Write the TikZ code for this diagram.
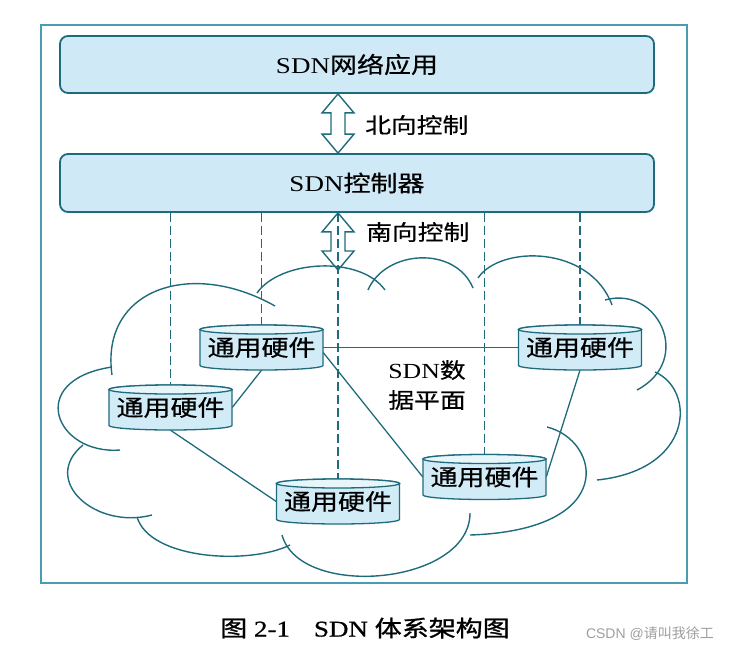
\documentclass[tikz,border=0pt]{standalone}
\usepackage{fontspec}
\setmainfont{Liberation Serif}[FakeStretch=1.2]
\newfontfamily\cjk{Noto Sans CJK SC}[FakeStretch=1.2,FakeBold=0.6]
\newfontfamily\capserif{Liberation Serif}[FakeStretch=1.2,FakeBold=0.8]
\newfontfamily\capcjk{Noto Sans CJK SC}[FakeStretch=1.2,FakeBold=1.2]
\newfontfamily\wmlat{Liberation Sans}
\newfontfamily\wmcjk{Noto Sans CJK SC}
\usetikzlibrary{calc}
\pgfdeclarelayer{back}
\pgfdeclarelayer{mid}
\pgfsetlayers{back,mid,main}
\definecolor{framec}{HTML}{4A9DB0}
\definecolor{linec}{HTML}{1E6B7C}
\definecolor{boxf}{HTML}{CFEAF6}
\definecolor{cylf}{HTML}{D2ECF7}
\definecolor{cyltopf}{HTML}{E8F6FB}
\newcommand\zh[1]{{\cjk #1}}
\newcommand\hollowarrow[2]{%
  \draw[harrow] let \p1=(#1), \p2=(#2) in
  (\x1,\y1) -- (\x1+16pt,\y1-19pt) -- (\x1+7pt,\y1-19pt) -- (\x1+7pt,\y2+19pt)
  -- (\x1+16pt,\y2+19pt) -- (\x1,\y2) -- (\x1-16pt,\y2+19pt) -- (\x1-7pt,\y2+19pt)
  -- (\x1-7pt,\y1-19pt) -- (\x1-16pt,\y1-19pt) -- cycle;}
\newcommand\cyl[1]{%
  \draw[cylbody] ([shift={(-61.5pt,18pt)}]#1.center) -- ([shift={(-61.5pt,-18pt)}]#1.center)
    arc[start angle=180,end angle=360,x radius=61.5pt,y radius=4.5pt]
    -- ([shift={(61.5pt,18pt)}]#1.center)
    arc[start angle=0,end angle=180,x radius=61.5pt,y radius=4.5pt] -- cycle;
  \draw[cyltop] ([shift={(0pt,18pt)}]#1.center) ellipse[x radius=61.5pt,y radius=4.5pt];}
\tikzset{
  frame/.style={draw=framec, line width=1.5pt},
  layerbox/.style={draw=linec, fill=boxf, line width=1.8pt, rounded corners=8pt,
    minimum width=594pt, inner sep=0pt, font=\fontsize{22.5}{26}\selectfont},
  harrow/.style={draw=linec, line width=1.4pt, line join=miter},
  lbl/.style={inner sep=0pt, font=\fontsize{21.5}{30}\selectfont},
  dev/.style={minimum width=123pt, minimum height=45pt, inner sep=0pt,
    font=\fontsize{22.5}{26}\selectfont},
  cylbody/.style={draw=linec, fill=cylf, line width=1.3pt},
  cyltop/.style={draw=linec, fill=cyltopf, line width=1.3pt},
  cloud/.style={draw=linec, line width=1.4pt},
  link/.style={draw=linec, line width=1.3pt},
  dashline/.style={draw=linec, line width=1.2pt, dash pattern=on 9pt off 4pt},
}
\begin{document}
\begin{tikzpicture}[x=1pt,y=-1pt]
\useasboundingbox (0,0) rectangle (730,656);
% outer frame
\draw[frame] (41,25) rectangle (687,583);
% layer boxes
\node[layerbox, minimum height=57pt] (app) at (357,64.5) {SDN\zh{网络应用}};
\node[layerbox, minimum height=58pt] (ctl) at (357,183) {SDN\zh{控制器}};
% arrows
\coordinate (ax) at (338,0);
\hollowarrow{app.south -| ax}{ctl.north -| ax}
\node[lbl, anchor=west] (nlbl) at (365,125) {\zh{北向控制}};
\coordinate (cloudtop) at (338,270);
\hollowarrow{ctl.south -| ax}{cloudtop}
\node[lbl, anchor=west] (slbl) at (366,232) {\zh{南向控制}};
% devices
\node[dev] (d1) at (261.5,347.5) {\zh{通用硬件}};
\node[dev] (d2) at (170.5,407.5) {\zh{通用硬件}};
\node[dev] (d3) at (580,347.5) {\zh{通用硬件}};
\node[dev] (d4) at (484.5,477) {\zh{通用硬件}};
\node[dev] (d5) at (338,501.5) {\zh{通用硬件}};
\begin{pgfonlayer}{mid}
  \cyl{d1}\cyl{d2}\cyl{d3}\cyl{d4}\cyl{d5}
\end{pgfonlayer}
\node[lbl, align=center] (dplane) at (427,385) {SDN\zh{数}\\\zh{据平面}};
\begin{pgfonlayer}{back}
  % cloud
  \draw[cloud] (112,375) .. controls (100,290) and (190,258) .. (275,306);
  \draw[cloud] (257,293) .. controls (280,260) and (360,255) .. (385,290);
  \draw[cloud] (368,290) .. controls (385,250) and (455,245) .. (473,288);
  \draw[cloud] (478,278) .. controls (500,245) and (590,245) .. (612,305);
  \draw[cloud] (605,300) .. controls (658,285) and (694,360) .. (637,390);
  \draw[cloud] (655,372) .. controls (696,390) and (694,470) .. (597,480);
  \draw[cloud] (547,427) .. controls (600,440) and (620,530) .. (470,535);
  \draw[cloud] (470,513) .. controls (470,585) and (300,600) .. (282,535);
  \draw[cloud] (290,545) .. controls (250,565) and (150,560) .. (137,517);
  \draw[cloud] (152,515) .. controls (95,530) and (40,480) .. (83,445);
  \draw[cloud] (120,450) .. controls (55,455) and (25,380) .. (112,367);
  % dashed control lines
  \draw[dashline] (ctl.south -| d1.north) -- (d1.north);
  \draw[dashline] (ctl.south -| d2.north) -- (d2.north);
  \draw[dashline] (ctl.south -| d3.north) -- (d3.north);
  \draw[dashline] (ctl.south -| d4.north) -- (d4.north);
  \draw[dashline] (ctl.south -| d5.north) -- (d5.north);
  % data links
  \draw[link] (d1.east) -- (d3.west);
  \draw[link] ([yshift=-5pt]d1.east) -- (d4.west);
  \draw[link] (d1.south) -- (d2.east);
  \draw[link] (d2.south) -- (d5.west);
  \draw[link] (d3.south) -- (d4.east);
\end{pgfonlayer}
% caption and watermark
\node[inner sep=0pt, font=\fontsize{22.5}{26}\selectfont] (cap) at (365,628)
  {{\capcjk 图} {\capserif 2-1}\hspace{24pt}{\capserif SDN} {\capcjk 体系架构图}};
\node[inner sep=0pt, anchor=east, text=black!38, font=\fontsize{14}{16}\selectfont] (wm) at (714,634)
  {\wmlat CSDN @\wmcjk 请叫我徐工};
\end{tikzpicture}
\end{document}
